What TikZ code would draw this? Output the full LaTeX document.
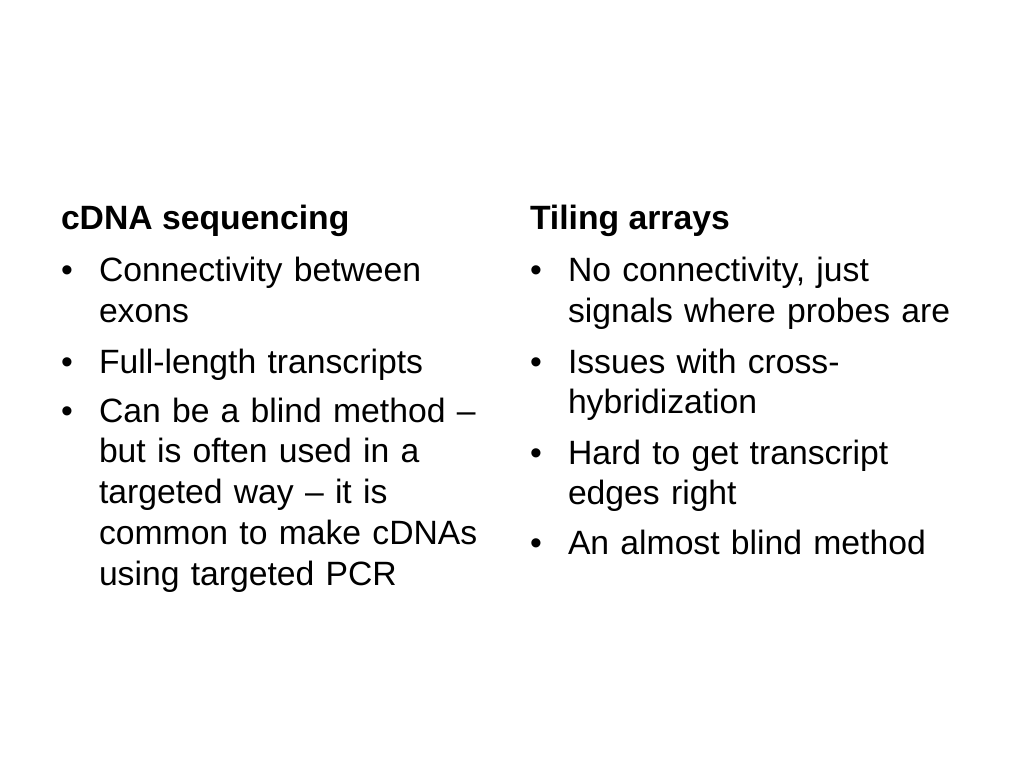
\documentclass[tikz,border=0pt]{standalone}
\usepackage{fontspec}
\setmainfont{Liberation Sans}
\usetikzlibrary{positioning}

\begin{document}
\begin{tikzpicture}[x=0.703125pt, y=-0.703125pt,
  every node/.style={inner sep=0pt, outer sep=0pt, anchor=base west, font=\fontsize{23.7}{28.8}\selectfont},
  head/.style={font=\fontsize{23.7}{28.8}\selectfont\bfseries},
  item/.style={text width=420*0.703125pt, align=left}]
\def\leftBullet{61}
\def\leftText{99}
\def\rightBullet{530}
\def\rightText{568}

\useasboundingbox (0,0) rectangle (1024,768);

%Left column
\node [head] (hcdna) at (61,230) {cDNA sequencing};
\node (bl1) at (\leftBullet,282) {•};
\node [item] (il1) at (\leftText,282) {Connectivity between\\exons};
\node (bl2) at (\leftBullet,373) {•};
\node [item] (il2) at (\leftText,373) {Full-length transcripts};
\node (bl3) at (\leftBullet,422) {•};
\node [item] (il3) at (\leftText,422) {Can be a blind method –\\but is often used in a\\targeted way – it is\\common to make cDNAs\\using targeted PCR};

%Right column
\node [head] (htiling) at (530,230) {Tiling arrays};
\node (br1) at (\rightBullet,282) {•};
\node [item] (ir1) at (\rightText,282) {No connectivity, just\\signals where probes are};
\node (br2) at (\rightBullet,373) {•};
\node [item] (ir2) at (\rightText,373) {Issues with cross-\\hybridization};
\node (br3) at (\rightBullet,464) {•};
\node [item] (ir3) at (\rightText,464) {Hard to get transcript\\edges right};
\node (br4) at (\rightBullet,554) {•};
\node [item] (ir4) at (\rightText,554) {An almost blind method};

\end{tikzpicture}
\end{document}
